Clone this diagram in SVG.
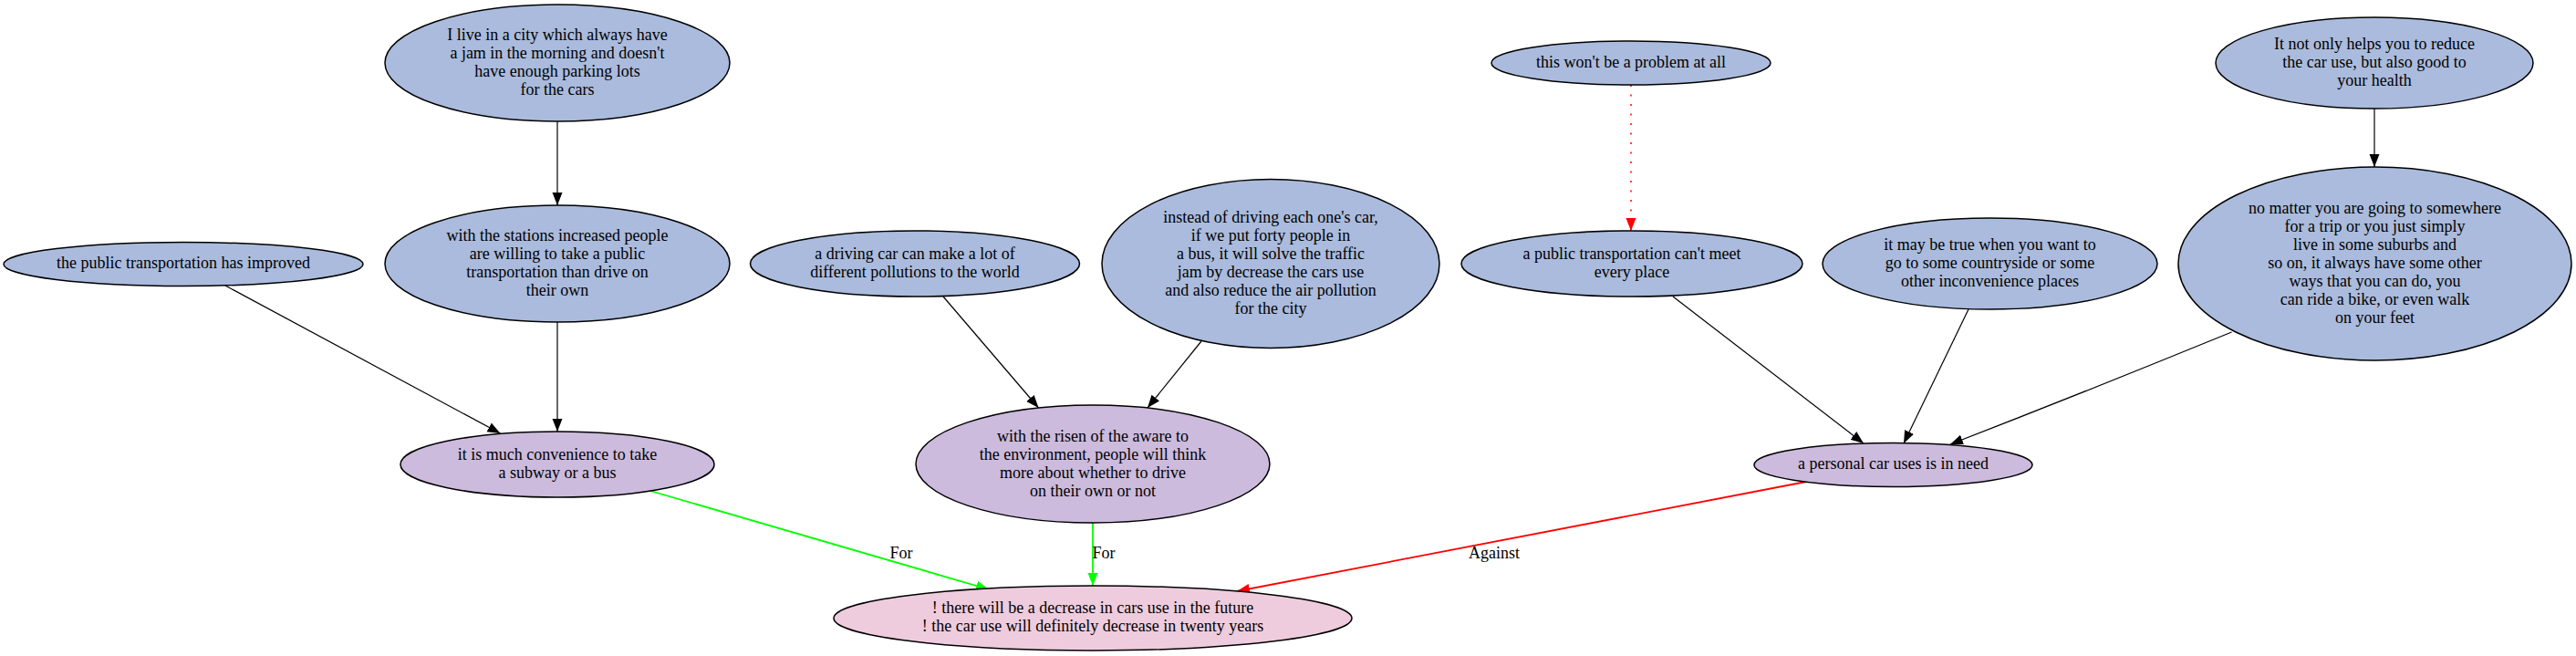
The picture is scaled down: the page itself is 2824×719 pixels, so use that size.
<svg xmlns="http://www.w3.org/2000/svg" width="2824" height="719" viewBox="0 0 2824 719">
<style>
.bg{fill:#ffffff}
.n ellipse{stroke:#000;stroke-width:1.5}
.a ellipse{fill:#aabbdd}
.b ellipse{fill:#ccbbdd}
.c ellipse{fill:#eeccdd}
text{font-family:"Liberation Serif","Times New Roman",serif;font-size:18px;fill:#000;text-anchor:middle}
.e{fill:none;stroke:#000;stroke-width:1.2}
.g{stroke:#00ff00;stroke-width:1.8}
.r{stroke:#ff0000;stroke-width:1.8}
.d{stroke:#ff0000;stroke-width:1.5;stroke-dasharray:2 8.5}
</style>
<defs>
<marker id="ak" markerUnits="userSpaceOnUse" markerWidth="16" markerHeight="12" refX="14" refY="5.5" orient="auto"><path d="M0,0 L14,5.5 L0,11 z" fill="#000"/></marker>
<marker id="ag" markerUnits="userSpaceOnUse" markerWidth="16" markerHeight="12" refX="14" refY="5.5" orient="auto"><path d="M0,0 L14,5.5 L0,11 z" fill="#00ff00"/></marker>
<marker id="ar" markerUnits="userSpaceOnUse" markerWidth="16" markerHeight="12" refX="14" refY="5.5" orient="auto"><path d="M0,0 L14,5.5 L0,11 z" fill="#ff0000"/></marker>
</defs>
<rect class="bg" x="0" y="0" width="2824" height="719"/>
<g id="edges">
<path class="e" d="M611,133 L611,225" marker-end="url(#ak)"/>
<path class="e" d="M247,313 L548.5,475" marker-end="url(#ak)"/>
<path class="e" d="M611,353 L611,473" marker-end="url(#ak)"/>
<path class="e" d="M1034,325 L1138.5,447" marker-end="url(#ak)"/>
<path class="e" d="M1317,374 L1258,447" marker-end="url(#ak)"/>
<path class="e d" d="M1788,93 L1788,253" marker-end="url(#ar)"/>
<path class="e" d="M2603,119 L2603,183" marker-end="url(#ak)"/>
<path class="e" d="M1834,325 L2043,486" marker-end="url(#ak)"/>
<path class="e" d="M2158,339 L2087,486" marker-end="url(#ak)"/>
<path class="e" d="M2446.5,364 Q2290,428 2138,487" marker-end="url(#ak)"/>
<path class="e g" d="M713,538 L1084,646" marker-end="url(#ag)"/>
<path class="e g" d="M1198,573 L1198,642" marker-end="url(#ag)"/>
<path class="e r" d="M1980,528 L1356,648" marker-end="url(#ar)"/>
<text x="988" y="612">For</text>
<text x="1210" y="612">For</text>
<text x="1638" y="612">Against</text>
</g>
<g id="n1" class="n a"><ellipse cx="611" cy="69" rx="189" ry="64"/><text><tspan x="611" y="44">I live in a city which always have</tspan><tspan x="611" y="64">a jam in the morning and doesn't</tspan><tspan x="611" y="84">have enough parking lots</tspan><tspan x="611" y="104">for the cars</tspan></text></g>
<g id="n2" class="n a"><ellipse cx="611" cy="289" rx="189" ry="64"/><text><tspan x="611" y="264">with the stations increased people</tspan><tspan x="611" y="284">are willing to take a public</tspan><tspan x="611" y="304">transportation than drive on</tspan><tspan x="611" y="324">their own</tspan></text></g>
<g id="n3" class="n a"><ellipse cx="201" cy="289.5" rx="197" ry="24"/><text x="201" y="294">the public transportation has improved</text></g>
<g id="n4" class="n b"><ellipse cx="611" cy="509" rx="172" ry="36"/><text><tspan x="611" y="504">it is much convenience to take</tspan><tspan x="611" y="524">a subway or a bus</tspan></text></g>
<g id="n5" class="n a"><ellipse cx="1003" cy="289" rx="180.5" ry="36"/><text><tspan x="1003" y="284">a driving car can make a lot of</tspan><tspan x="1003" y="304">different pollutions to the world</tspan></text></g>
<g id="n6" class="n a"><ellipse cx="1393" cy="289" rx="185" ry="92.5"/><text><tspan x="1393" y="244">instead of driving each one's car,</tspan><tspan x="1393" y="264">if we put forty people in</tspan><tspan x="1393" y="284">a bus, it will solve the traffic</tspan><tspan x="1393" y="304">jam by decrease the cars use</tspan><tspan x="1393" y="324">and also reduce the air pollution</tspan><tspan x="1393" y="344">for the city</tspan></text></g>
<g id="n7" class="n b"><ellipse cx="1198" cy="508.5" rx="194" ry="64.5"/><text><tspan x="1198" y="484">with the risen of the aware to</tspan><tspan x="1198" y="504">the environment, people will think</tspan><tspan x="1198" y="524">more about whether to drive</tspan><tspan x="1198" y="544">on their own or not</tspan></text></g>
<g id="n8" class="n c"><ellipse cx="1198" cy="677.5" rx="284" ry="35.5"/><text><tspan x="1198" y="672">! there will be a decrease in cars use in the future</tspan><tspan x="1198" y="692">! the car use will definitely decrease in twenty years</tspan></text></g>
<g id="n9" class="n a"><ellipse cx="1788" cy="69" rx="153" ry="24"/><text x="1788" y="74">this won't be a problem at all</text></g>
<g id="n10" class="n a"><ellipse cx="1789" cy="289" rx="187" ry="36"/><text><tspan x="1789" y="284">a public transportation can't meet</tspan><tspan x="1789" y="304">every place</tspan></text></g>
<g id="n11" class="n a"><ellipse cx="2181.5" cy="289" rx="183.5" ry="50"/><text><tspan x="2181.5" y="274">it may be true when you want to</tspan><tspan x="2181.5" y="294">go to some countryside or some</tspan><tspan x="2181.5" y="314">other inconvenience places</tspan></text></g>
<g id="n12" class="n a"><ellipse cx="2603" cy="69" rx="174" ry="50"/><text><tspan x="2603" y="54">It not only helps you to reduce</tspan><tspan x="2603" y="74">the car use, but also good to</tspan><tspan x="2603" y="94">your health</tspan></text></g>
<g id="n13" class="n a"><ellipse cx="2603.5" cy="289" rx="215.5" ry="106"/><text><tspan x="2603.5" y="234">no matter you are going to somewhere</tspan><tspan x="2603.5" y="254">for a trip or you just simply</tspan><tspan x="2603.5" y="274">live in some suburbs and</tspan><tspan x="2603.5" y="294">so on, it always have some other</tspan><tspan x="2603.5" y="314">ways that you can do, you</tspan><tspan x="2603.5" y="334">can ride a bike, or even walk</tspan><tspan x="2603.5" y="354">on your feet</tspan></text></g>
<g id="n14" class="n b"><ellipse cx="2075.5" cy="509.5" rx="152.5" ry="24"/><text x="2075.5" y="514">a personal car uses is in need</text></g>
</svg>
